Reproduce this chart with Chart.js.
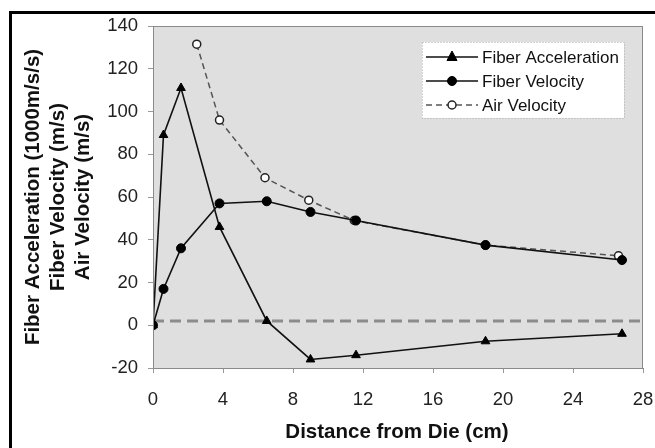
<!DOCTYPE html>
<html>
<head>
<meta charset="utf-8">
<script src="https://cdn.jsdelivr.net/npm/chart.js@4/dist/chart.umd.min.js"></script>
<style>
  html, body { margin: 0; padding: 0; background: #fff; }
  #wrap { width: 655px; height: 448px; position: relative; }
</style>
</head>
<body>
<div id="wrap"><canvas id="fiber" width="655" height="448"></canvas></div>
<script>
// distance from die (cm)
const fiberX = [0, 0.6, 1.6, 3.8, 6.5, 9, 11.6, 19, 26.8];
const fiberAcc = [0, 89, 111, 46, 2, -16, -14, -7.5, -4];
const fiberVel = [0, 17, 36, 57, 58, 53, 49, 37.5, 30.5];
const airX = [2.5, 3.8, 6.4, 8.9, 11.5, 19, 26.6];
const airVel = [131.5, 96, 69, 58.5, 49, 37.5, 32.5];
const refX = [0, 28];
const refY = [2, 2];
const seriesNames = ["Fiber Acceleration", "Fiber Velocity", "Air Velocity"];
const yTitle = ["Fiber Acceleration (1000m/s/s)", "Fiber Velocity (m/s)", "Air Velocity (m/s)"];
const xTitle = "Distance from Die (cm)";

const pts = (xs, ys) => xs.map((x, i) => ({ x: x, y: ys[i] }));
const FONT = "'Liberation Sans', Arial, sans-serif";

const framePlugin = {
  id: "frame",
  beforeDraw(chart) {
    const c = chart.ctx, a = chart.chartArea;
    c.save();
    c.fillStyle = "#fff";
    c.fillRect(0, 0, chart.width, chart.height);
    c.fillStyle = "#dfdfdf";
    c.fillRect(a.left, a.top, a.right - a.left, a.bottom - a.top);
    // outer frame (only left and top visible)
    c.fillStyle = "#000";
    c.fillRect(9, 11, 3, chart.height - 11);
    c.fillRect(9, 11, chart.width - 9, 3);
    c.restore();
  },
  afterDraw(chart) {
    const c = chart.ctx, a = chart.chartArea;
    c.save();
    c.strokeStyle = "#8a8a8a";
    c.lineWidth = 1;
    c.strokeRect(a.left + 0.5, a.top + 0.5, a.right - a.left - 1, a.bottom - a.top);
    // axis titles
    c.fillStyle = "#111";
    c.font = "bold 20.5px " + FONT;
    c.textAlign = "center";
    c.textBaseline = "middle";
    c.fillText(xTitle, 397, 432);
    const cy = (a.top + a.bottom) / 2;
    [33, 58, 83].forEach((x, i) => {
      c.save();
      c.translate(x, cy);
      c.rotate(-Math.PI / 2);
      c.fillText(yTitle[i], 0, 0);
      c.restore();
    });
    // legend
    const bx = 422, by = 42, bw = 202, bh = 76;
    c.fillStyle = "#fff";
    c.fillRect(bx, by, bw, bh);
    c.strokeStyle = "#aaa";
    c.setLineDash([1, 2]);
    c.strokeRect(bx + 0.5, by + 0.5, bw, bh);
    c.setLineDash([]);
    const rows = [57, 81, 105];
    chart.data.datasets.slice(0, 3).forEach((ds, i) => {
      const y = rows[i];
      c.strokeStyle = ds.borderColor;
      c.lineWidth = ds.borderWidth;
      c.setLineDash(ds.borderDash || []);
      c.beginPath();
      c.moveTo(426, y);
      c.lineTo(478, y);
      c.stroke();
      c.setLineDash([]);
      c.fillStyle = ds.pointBackgroundColor;
      c.strokeStyle = ds.pointBorderColor;
      c.beginPath();
      if (ds.pointStyle === "triangle") {
        const r = ds.pointRadius;
        c.moveTo(452, y - r * 1.2);
        c.lineTo(452 + r, y + r * 0.7);
        c.lineTo(452 - r, y + r * 0.7);
        c.closePath();
      } else {
        c.arc(452, y, ds.pointRadius, 0, Math.PI * 2);
      }
      c.fill();
      c.lineWidth = ds.pointBorderWidth || 1;
      c.stroke();
      c.fillStyle = "#111";
      c.font = "17px " + FONT;
      c.textAlign = "left";
      c.fillText(ds.label, 482, y + 1);
    });
    c.restore();
  }
};

new Chart(document.getElementById("fiber"), {
  type: "scatter",
  data: {
    datasets: [
      {
        label: seriesNames[0],
        data: pts(fiberX, fiberAcc),
        showLine: true,
        borderColor: "#111",
        borderWidth: 1.6,
        pointStyle: "triangle",
        pointRadius: 5,
        pointBackgroundColor: "#000",
        pointBorderColor: "#000",
        pointBorderWidth: 1
      },
      {
        label: seriesNames[1],
        data: pts(fiberX, fiberVel),
        showLine: true,
        borderColor: "#111",
        borderWidth: 1.6,
        pointStyle: "circle",
        pointRadius: 4.5,
        pointBackgroundColor: "#000",
        pointBorderColor: "#000",
        pointBorderWidth: 1
      },
      {
        label: seriesNames[2],
        data: pts(airX, airVel),
        showLine: true,
        borderColor: "#555",
        borderWidth: 1.5,
        borderDash: [6, 4],
        pointStyle: "circle",
        pointRadius: 4,
        pointBackgroundColor: "#fff",
        pointBorderColor: "#222",
        pointBorderWidth: 1.5
      },
      {
        label: "reference",
        data: pts(refX, refY),
        showLine: true,
        borderColor: "#8c8c8c",
        borderWidth: 3,
        borderDash: [11, 6],
        pointRadius: 0
      }
    ]
  },
  options: {
    responsive: false,
    animation: false,
    layout: { padding: { left: 0, top: 26, right: 0, bottom: 0 } },
    plugins: { legend: { display: false }, tooltip: { enabled: false } },
    scales: {
      x: {
        type: "linear",
        min: 0,
        max: 28,
        ticks: { stepSize: 4, padding: 16, color: "#222", font: { family: FONT, size: 18.5 } },
        grid: { drawOnChartArea: false, drawTicks: true, tickLength: 5, color: "#999" },
        border: { display: true, color: "#8a8a8a" },
        afterFit(s) { s.height = 80; s.paddingLeft = 0; s.paddingRight = 12; }
      },
      y: {
        type: "linear",
        min: -20,
        max: 140,
        ticks: { stepSize: 20, padding: 10, color: "#222", font: { family: FONT, size: 18.5 } },
        grid: { drawOnChartArea: false, drawTicks: true, tickLength: 5, color: "#999" },
        border: { display: true, color: "#8a8a8a" },
        afterFit(s) { s.width = 153; s.paddingTop = 0; s.paddingBottom = 0; }
      }
    }
  },
  plugins: [framePlugin]
});
</script>
</body>
</html>
